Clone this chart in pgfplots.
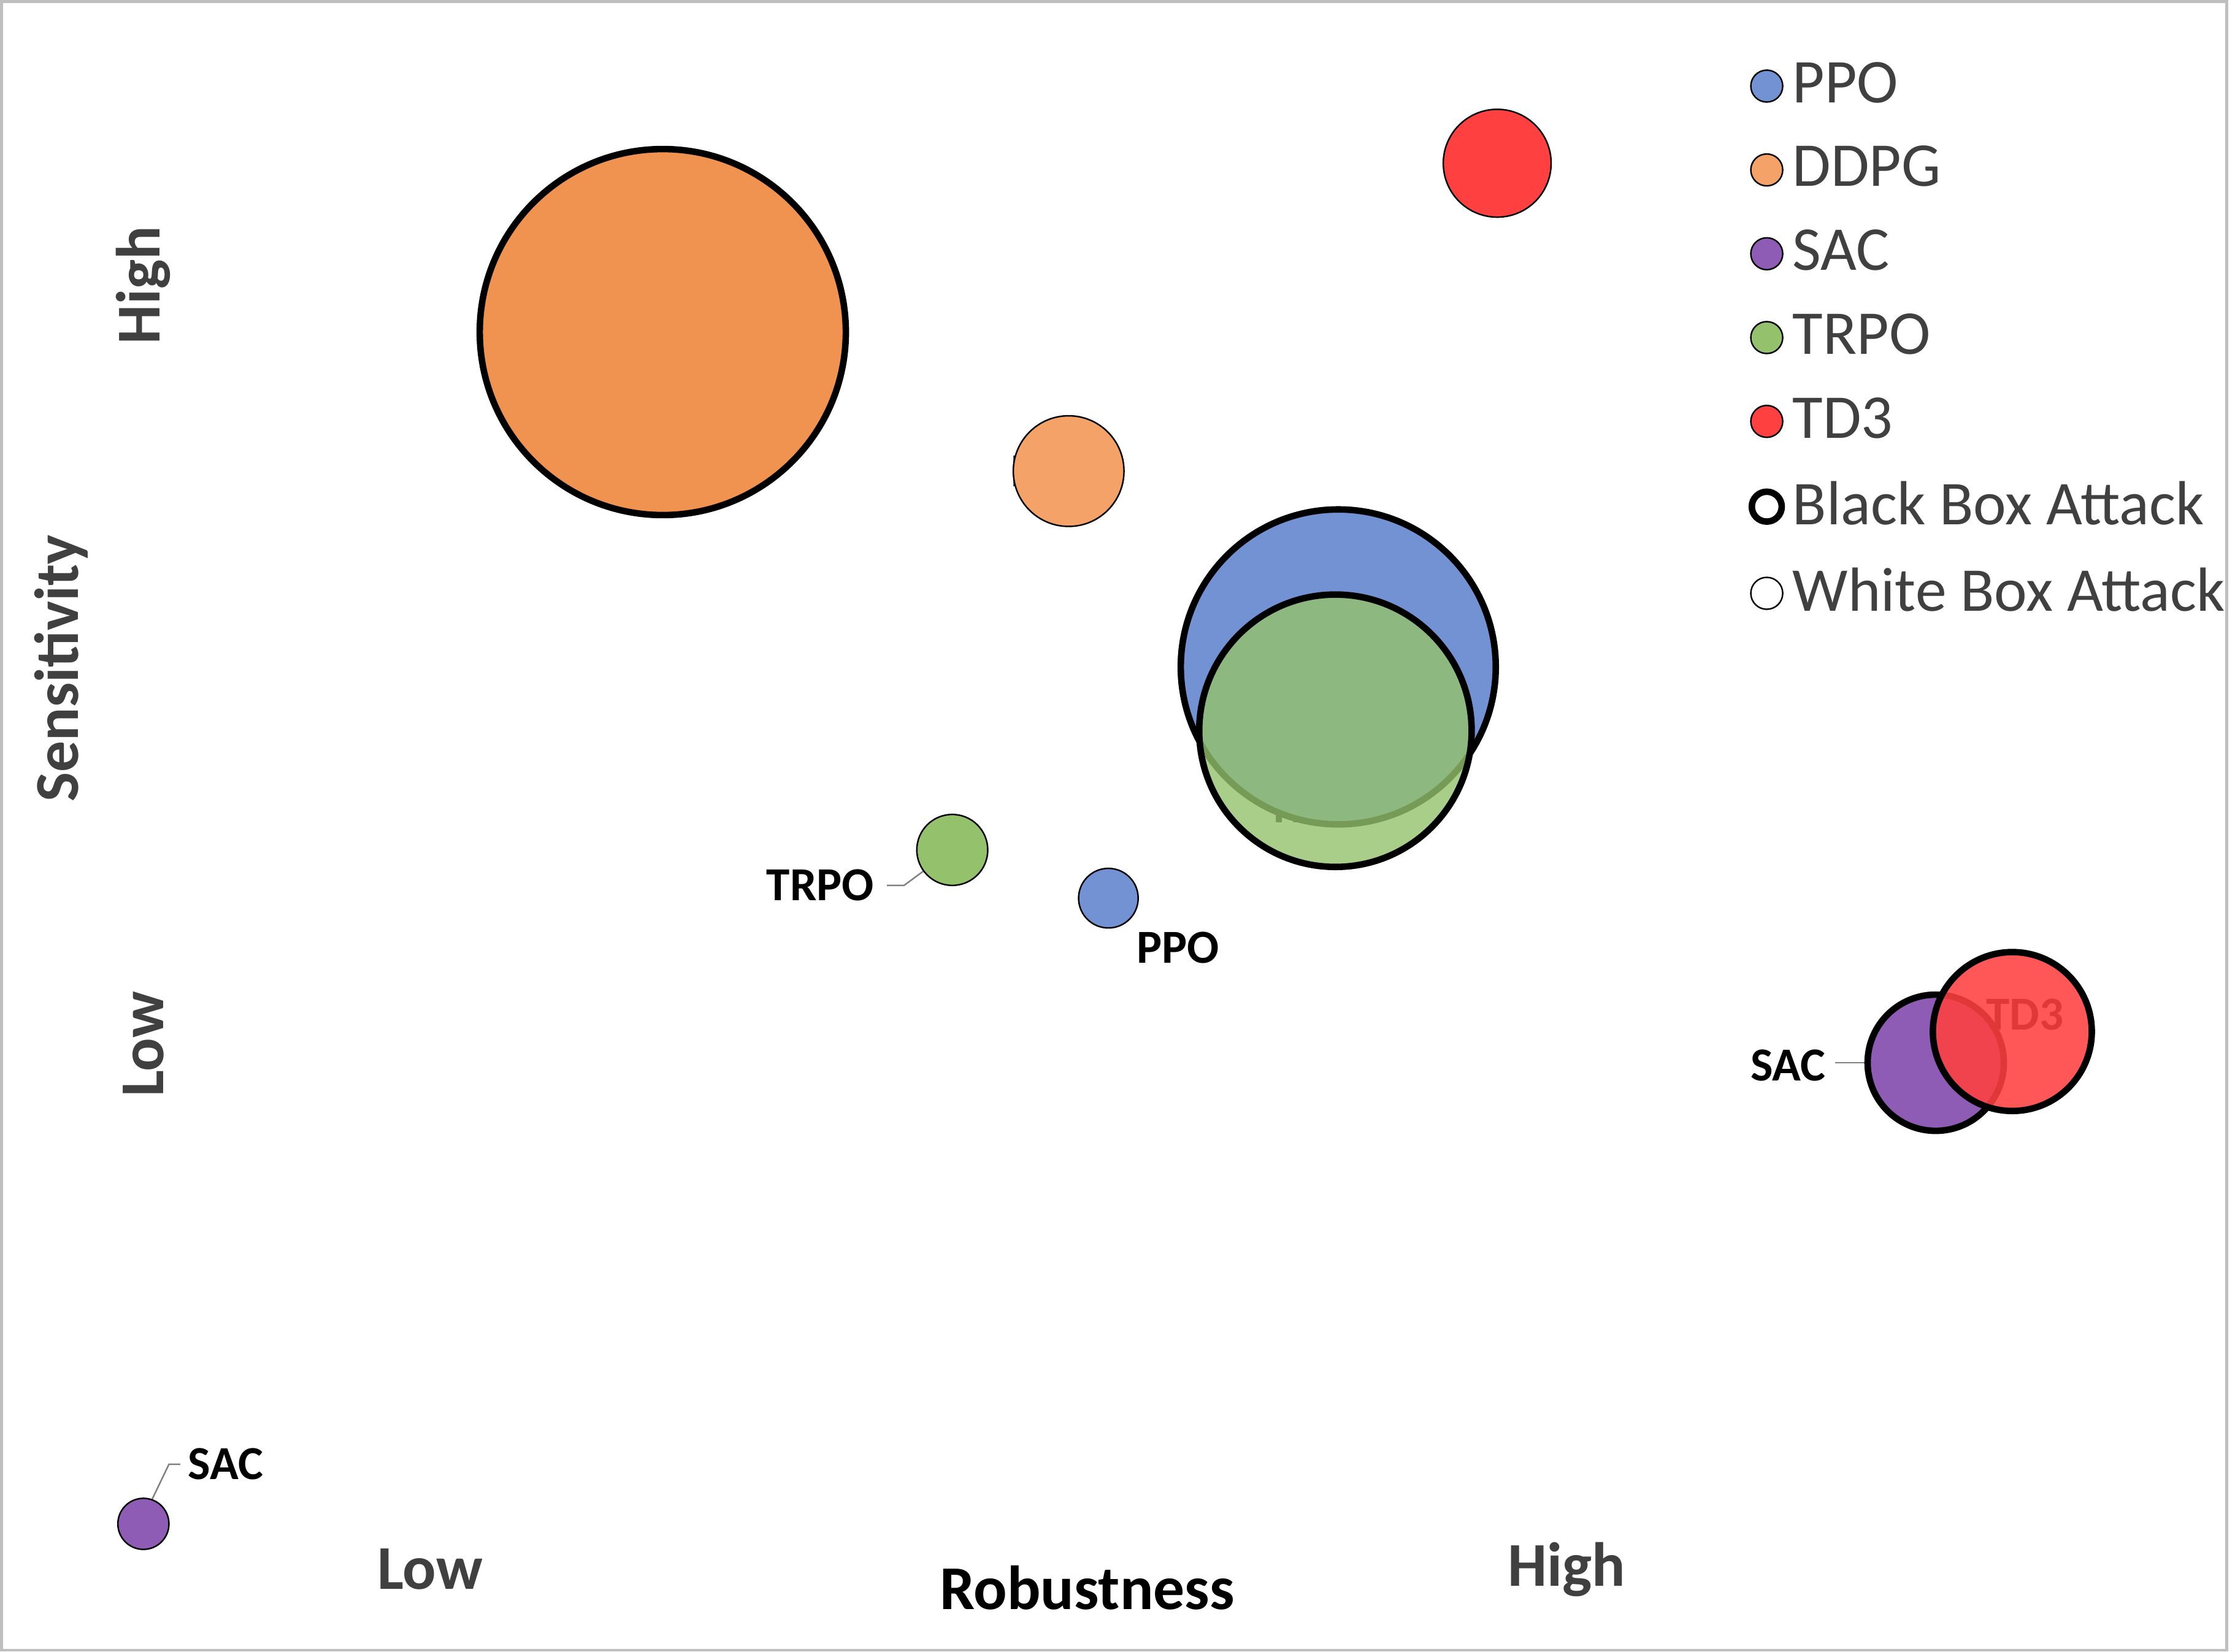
\documentclass[border=0pt]{standalone}
\usepackage{pgfplots}
\pgfplotsset{compat=1.18}
\usepackage{fontspec}
\setmainfont{Carlito}
\definecolor{cppo}{RGB}{114,146,212}
\definecolor{cddpg}{RGB}{240,146,80}
\definecolor{cddpgw}{RGB}{244,162,104}
\definecolor{csac}{RGB}{142,92,180}
\definecolor{ctrpo}{RGB}{148,194,108}
\definecolor{ctd}{RGB}{255,64,64}
\definecolor{tg}{RGB}{64,64,64}
\newcommand{\bub}[6]{\addplot[forget plot, only marks, mark=*, mark size=#3*0.2845pt, mark options={fill=#4, draw=black, line width=#5, fill opacity=#6}] coordinates {(#1,#2)};}
\begin{document}
\begin{tikzpicture}
\begin{axis}[scale only axis, width=15.68cm, height=11.62cm, xmin=0, xmax=1568, ymin=0, ymax=1162, y dir=reverse, axis lines=none, clip=false,
 legend style={at={(axis cs:1232,35)}, anchor=north west, draw=none, fill=none, font=\fontsize{12.5}{14}\selectfont\color{tg}, row sep=3.2pt, inner sep=0pt},
 legend cell align=left]
\draw[gray!50, line width=0.6pt] (axis cs:0,0) rectangle (axis cs:1568,1162);
\addlegendimage{only marks, mark=*, mark size=3.2pt, mark options={fill=cppo, draw=black, line width=0.3pt}}\addlegendentry{PPO}
\addlegendimage{only marks, mark=*, mark size=3.2pt, mark options={fill=cddpgw, draw=black, line width=0.3pt}}\addlegendentry{DDPG}
\addlegendimage{only marks, mark=*, mark size=3.2pt, mark options={fill=csac, draw=black, line width=0.3pt}}\addlegendentry{SAC}
\addlegendimage{only marks, mark=*, mark size=3.2pt, mark options={fill=ctrpo, draw=black, line width=0.3pt}}\addlegendentry{TRPO}
\addlegendimage{only marks, mark=*, mark size=3.2pt, mark options={fill=ctd, draw=black, line width=0.3pt}}\addlegendentry{TD3}
\addlegendimage{only marks, mark=*, mark size=3.0pt, mark options={fill=white, draw=black, line width=1.3pt}}\addlegendentry{Black Box Attack}
\addlegendimage{only marks, mark=*, mark size=3.2pt, mark options={fill=white, draw=black, line width=0.3pt}}\addlegendentry{White Box Attack}
\bub{466}{233}{129}{cddpg}{1.3pt}{1}
\bub{752}{331}{39}{cddpgw}{0.3pt}{1}
\bub{1054}{114}{38}{ctd}{0.3pt}{1}
\bub{942}{469}{111}{cppo}{1.3pt}{1}
\bub{940}{514}{96}{ctrpo}{1.3pt}{0.8}
\bub{670}{598}{25}{ctrpo}{0.3pt}{1}
\bub{780}{632}{21}{cppo}{0.3pt}{1}
\bub{1363}{748}{48}{csac}{1.3pt}{1}
\bub{1417}{726}{56}{ctd}{1.3pt}{0.88}
\bub{100}{1073}{18}{csac}{0.3pt}{1}
\begin{scope}[every node/.style={font=\fontsize{9.5}{11}\selectfont\bfseries}]
\node at (axis cs:466,235) {DDPG};
\node at (axis cs:752,331) {DDPG};
\node at (axis cs:1054,116) {TD3};
\node at (axis cs:950,396) {PPO};
\node at (axis cs:930,568) {TRPO};
\node at (axis cs:577,623) {TRPO};
\node at (axis cs:829,667) {PPO};
\node at (axis cs:1259,750) {SAC};
\node at (axis cs:1426,714) {TD3};
\node at (axis cs:158,1031) {SAC};
\end{scope}
\draw[gray, line width=0.3pt] (axis cs:624,623) -- (axis cs:636,623) -- (axis cs:670,598);
\draw[gray, line width=0.3pt] (axis cs:1292,748) -- (axis cs:1340,748);
\draw[gray, line width=0.3pt] (axis cs:126,1031) -- (axis cs:118,1031) -- (axis cs:106,1056);
\node[font=\fontsize{12.5}{14}\selectfont\bfseries] at (axis cs:765,1118) {Robustness};
\node[font=\fontsize{12.5}{14}\selectfont\bfseries, text=tg] at (axis cs:302,1105) {Low};
\node[font=\fontsize{12.5}{14}\selectfont\bfseries, text=tg] at (axis cs:1103,1105) {High};
\node[font=\fontsize{12.5}{14}\selectfont\bfseries, text=tg, rotate=90] at (axis cs:100,200) {High};
\node[font=\fontsize{12.5}{14}\selectfont\bfseries, text=tg, rotate=90] at (axis cs:100,735) {Low};
\node[font=\fontsize{12.5}{14}\selectfont\bfseries, text=tg, rotate=90] at (axis cs:42,470) {Sensitivity};
\end{axis}
\end{tikzpicture}
\end{document}
